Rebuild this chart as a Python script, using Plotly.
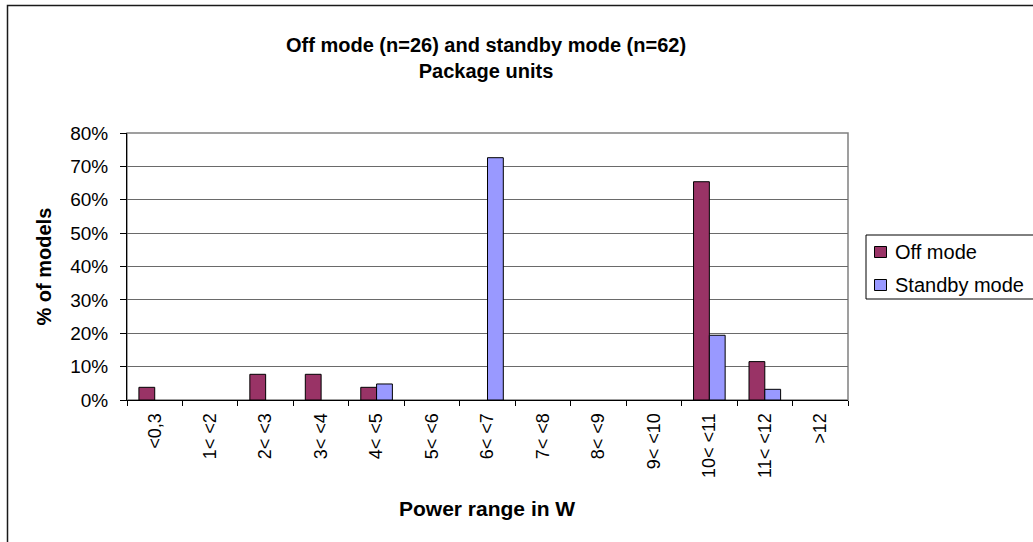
import plotly.graph_objects as go

# Power ranges (W) used as the categories
power_ranges = ["<0,3", "1< <2", "2< <3", "3< <4", "4< <5", "5< <6", "6< <7",
                "7< <8", "8< <9", "9< <10", "10< <11", "11< <12", ">12"]

# Share of models per power range
off_mode = [0.038, 0, 0.077, 0.077, 0.038, 0, 0, 0, 0, 0, 0.654, 0.115, 0]
standby_mode = [0, 0, 0, 0, 0.048, 0, 0.726, 0, 0, 0, 0.194, 0.032, 0]

series_names = ["Off mode", "Standby mode"]
series_colors = ["#993366", "#9999FF"]

y_ticks = [0, 0.1, 0.2, 0.3, 0.4, 0.5, 0.6, 0.7, 0.8]

FONT = "Liberation Sans, Arial, sans-serif"

W, H = 1033, 542
L, R, T, B = 127, 185, 133, 142
pw, ph = W - L - R, H - T - B


def px_x(x):
    return (x - L) / pw


def px_y(y):
    return (H - B - y) / ph


def visible(values):
    # empty ranges get no bar at all
    return [v if v else None for v in values]


fig = go.Figure()
for name, values, color in zip(series_names, [off_mode, standby_mode], series_colors):
    fig.add_trace(go.Bar(
        x=power_ranges, y=visible(values), name=name,
        marker=dict(color=color, line=dict(color="#000000", width=1)),
    ))

# legend box drawn by hand, flush with the right edge of the chart
legend_shapes = [
    dict(type="rect", xref="paper", yref="paper",
         x0=px_x(866), x1=px_x(1045), y0=px_y(299), y1=px_y(235),
         line=dict(color="#000000", width=1), fillcolor="white"),
]
legend_notes = []
for i, (name, color) in enumerate(zip(series_names, series_colors)):
    cy = 252 + i * 33
    legend_shapes.append(dict(
        type="rect", xref="paper", yref="paper",
        x0=px_x(874.5), x1=px_x(886.5), y0=px_y(cy + 5.5), y1=px_y(cy - 5.5),
        line=dict(color="#000000", width=1), fillcolor=color))
    legend_notes.append(dict(
        text=name, xref="paper", yref="paper", x=px_x(893), y=px_y(cy),
        xanchor="left", yanchor="middle", showarrow=False,
        font=dict(family=FONT, size=20, color="#000000")))

fig.update_layout(
    width=W, height=H,
    margin=dict(l=L, r=R, t=T, b=B, pad=0, autoexpand=False),
    paper_bgcolor="white", plot_bgcolor="white",
    barmode="group", bargap=0.43, bargroupgap=0,
    font=dict(family=FONT, color="#000000"),
    showlegend=False,
    xaxis=dict(
        type="category", showline=True, linecolor="#000000", linewidth=1,
        ticks="outside", tickson="boundaries", ticklen=5, tickcolor="#000000",
        tickangle=-90, tickfont=dict(family=FONT, size=18), ticklabelstandoff=5,
        showgrid=False, zeroline=False,
    ),
    yaxis=dict(
        range=[0, 0.8], tickvals=y_ticks, tickformat=".0%",
        showline=True, linecolor="#000000", linewidth=1,
        ticks="outside", ticklen=6, tickcolor="#000000",
        tickfont=dict(family=FONT, size=19), ticklabelstandoff=8,
        showgrid=True, gridcolor="#6a6a6a", gridwidth=1, zeroline=False,
    ),
    shapes=[
        # plot area frame
        dict(type="rect", xref="paper", yref="paper", x0=0, x1=1, y0=0, y1=1,
             line=dict(color="#808080", width=1.5), layer="below"),
        # chart area frame
        dict(type="rect", xref="paper", yref="paper",
             x0=px_x(7.5), x1=px_x(1060), y0=px_y(570), y1=px_y(5.5),
             line=dict(color="#1a1a1a", width=1.5)),
    ] + legend_shapes,
    annotations=[
        dict(text="<b>Off mode (n=26) and standby mode (n=62)<br>Package units</b>",
             xref="paper", yref="paper", x=px_x(486), y=px_y(57.5),
             xanchor="center", yanchor="middle", showarrow=False,
             font=dict(family=FONT, size=20)),
        dict(text="<b>Power range in W</b>", xref="paper", yref="paper",
             x=px_x(486.5), y=px_y(508), xanchor="center", yanchor="middle",
             showarrow=False, font=dict(family=FONT, size=21)),
        dict(text="<b>% of models</b>", xref="paper", yref="paper",
             x=px_x(43), y=px_y(266.5), xanchor="center", yanchor="middle",
             textangle=-90, showarrow=False, font=dict(family=FONT, size=20)),
    ] + legend_notes,
)

fig.write_html("out.html")
